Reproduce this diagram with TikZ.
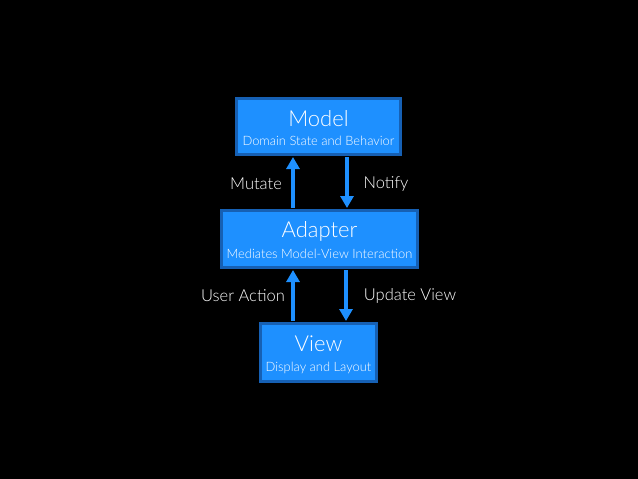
\documentclass[tikz,border=0pt]{standalone}
\usepackage{fontspec}
\setmainfont{Lato}[UprightFont=* Light]
\usetikzlibrary{arrows.meta}
\definecolor{boxfill}{RGB}{30,144,255}
\definecolor{boxline}{RGB}{22,96,180}
\begin{document}
\begin{tikzpicture}[x=1pt,y=-1pt,
  box/.style={draw=boxline,line width=3pt,fill=boxfill,inner sep=0pt},
  ttl/.style={text=white,font=\fontsize{22}{22}\selectfont},
  sub/.style={text=white,font=\fontsize{12.9}{13}\selectfont},
  lbl/.style={text=white,font=\fontsize{16.5}{17}\selectfont},
  arr/.style={draw=boxfill,line width=4pt,-{Triangle[width=13pt,length=12pt]}}]
\fill[black] (0,0) rectangle (638,479);
\useasboundingbox (0,0) rectangle (638,479);
% boxes
\node[box,minimum width=164pt,minimum height=56pt] (model) at (318.5,126) {};
\node[box,minimum width=196pt,minimum height=57pt] (adapter) at (319.5,239) {};
\node[box,minimum width=116pt,minimum height=58pt] (view) at (318.5,352) {};
% texts
\node[ttl] (mt) at (318.5,119) {Model};
\node[sub] (ms) at (318.5,141) {Domain State and Behavior};
\node[ttl] (at) at (319.5,231) {Adapter};
\node[sub] (as) at (319.5,254) {Mediates Model-View Interaction};
\node[ttl] (vt) at (318.5,344) {View};
\node[sub] (vs) at (318.5,368) {Display and Layout};
% arrows
\coordinate (mb1) at (293,157);
\coordinate (mb2) at (347,157);
\coordinate (at1) at (293,208);
\coordinate (at2) at (347,208);
\coordinate (ab1) at (293,270);
\coordinate (ab2) at (346,270);
\coordinate (vt1) at (293,321);
\coordinate (vt2) at (346,321);
\draw[arr] (at1) -- (mb1);
\draw[arr] (mb2) -- (at2);
\draw[arr] (vt1) -- (ab1);
\draw[arr] (ab2) -- (vt2);
% labels
\node[lbl] (l1) at (256,184) {Mutate};
\node[lbl] (l2) at (386,184) {Notify};
\node[lbl] (l3) at (243,296) {User Action};
\node[lbl] (l4) at (410,296) {Update View};
\end{tikzpicture}
\end{document}
